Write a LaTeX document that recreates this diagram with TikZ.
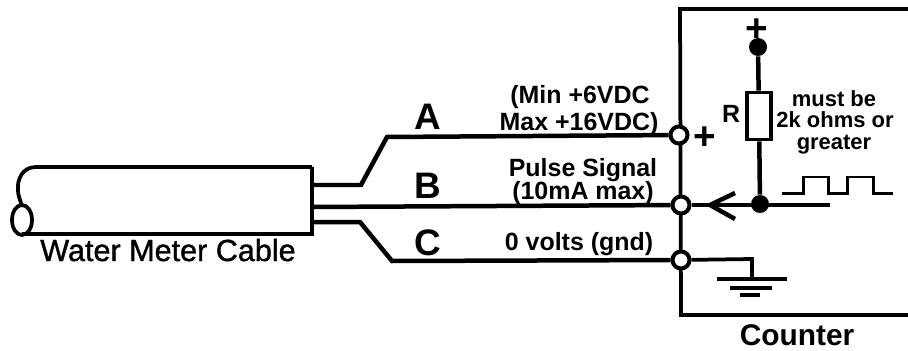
\documentclass[tikz,border=0pt]{standalone}
\usepackage{fontspec}
\setmainfont{Liberation Sans}
\newfontfamily\cablefont[FakeBold=1.2]{Liberation Sans}
\usetikzlibrary{calc}
\tikzset{
	wire/.style={line width=0.9mm},
	thinwire/.style={line width=0.75mm},
	terminal/.style={circle, draw, fill=white, line width=0.8mm, minimum size=0.34cm, inner sep=0},
	blob/.style={circle, fill=black, minimum size=0.36cm, inner sep=0},
	loadbox/.style={rectangle, draw, fill=white, line width=0.75mm, minimum width=0.48cm, minimum height=0.94cm, inner sep=0},
	bigtxt/.style={font=\bfseries\fontsize{21}{21}\selectfont, inner sep=0, anchor=base},
	midtxt/.style={font=\bfseries\fontsize{14.2}{14.2}\selectfont, inner sep=0, anchor=base},
	smalltxt/.style={font=\bfseries\fontsize{12.5}{12.5}\selectfont, inner sep=0, anchor=base},
	captxt/.style={font=\bfseries\fontsize{17}{17}\selectfont, inner sep=0, anchor=base},
	cabletxt/.style={font=\cablefont\fontsize{17.4}{17.4}\selectfont, inner sep=0, anchor=base},
	plustxt/.style={font=\bfseries\fontsize{22}{22}\selectfont, inner sep=0}
}

\begin{document}
\begin{tikzpicture}[x=0.02cm, y=-0.02cm]
			%%%%% START %%%%%
			\useasboundingbox (0, 0) rectangle (908, 351);
			
			% counter box
			\coordinate (boxtop) at (908, 9);
			\coordinate (boxbot) at (908, 315);
			\draw[thinwire] (boxtop) -- (680, 9) -- (681, 315) -- (boxbot);
			
			% cable
			\draw[thinwire] (312, 167) -- (36, 167) .. controls (22, 167) and (17, 180) .. (18, 190) .. controls (18, 198) and (22, 202) .. (21, 206);
			\draw[thinwire] (22, 220) ellipse (10 and 15);
			\draw[thinwire] (22, 234) -- (312, 234) -- (312, 167);
			
			% terminals and wires
			\node[terminal] (terma) at (679, 135) {};
			\node[terminal] (termb) at (681, 205) {};
			\node[terminal] (termc) at (681, 260) {};
			\coordinate (wirea) at (312, 185);
			\coordinate (wireb) at (312, 207);
			\coordinate (wirec) at (312, 222);
			\draw[wire] (wirea) -- (361, 185) -- (387, 137) -- (terma);
			\draw[wire] (wireb) -- (termb);
			\draw[wire] (wirec) -- (360, 222) -- (392, 261) -- (termc);
			
			% pull-up resistor
			\node[blob] (topdot) at (758, 47) {};
			\node[blob] (signaldot) at (760, 204) {};
			\node[loadbox] (rload) at (759, 116) {};
			\draw[wire] (topdot) -- (rload);
			\draw[wire] (rload) -- (signaldot);
			
			% signal line and arrow
			\coordinate (lineend) at (830, 205);
			\coordinate (arrowtip) at (710, 205);
			\draw[wire] (termb) -- (lineend);
			\draw[wire] (735, 193) -- (arrowtip) -- (735, 219);
			
			% pulses
			\draw[line width=0.6mm] (782, 193) -- (803, 193) -- (803, 177) -- (828, 177) -- (828, 193) -- (847, 193) -- (847, 177) -- (873, 177) -- (873, 193) -- (893, 193);
			
			% ground
			\coordinate (gnd) at (752, 279);
			\draw[thinwire] (termc) -- (752, 259) -- (gnd);
			\draw[line width=0.9mm] (717, 279) -- (787, 279);
			\draw[line width=0.9mm] (730, 288) -- (772, 288);
			\draw[line width=0.9mm] (740, 295) -- (760, 295);
			
			% labels
			\node[bigtxt] (laba) at (428, 130) {A};
			\node[bigtxt] (labb) at (428, 198) {B};
			\node[bigtxt] (labc) at (428, 255) {C};
			\node[cabletxt] (cablename) at (168, 261) {Water Meter Cable};
			\node[captxt] (countername) at (797, 345) {Counter};
			\node[midtxt] (minv) at (580, 104) {(Min +6VDC};
			\node[midtxt] (maxv) at (579, 131) {Max +16VDC)};
			\node[midtxt] (pulse) at (583, 176) {Pulse Signal};
			\node[midtxt] (maxi) at (583, 199) {(10mA max)};
			\node[midtxt] (zerov) at (579, 250) {0 volts (gnd)};
			\node[midtxt] (rname) at (731, 123) {R};
			\node[smalltxt] (must) at (834, 107) {must be};
			\node[smalltxt] (ohms) at (835, 128) {2k ohms or};
			\node[smalltxt] (great) at (834, 150) {greater};
			\node[plustxt] (plusa) at (705, 138) {+};
			\node[plustxt] (plustop) at (757, 30) {+};
			
			%%%%% END %%%%%
		\end{tikzpicture}
\end{document}
